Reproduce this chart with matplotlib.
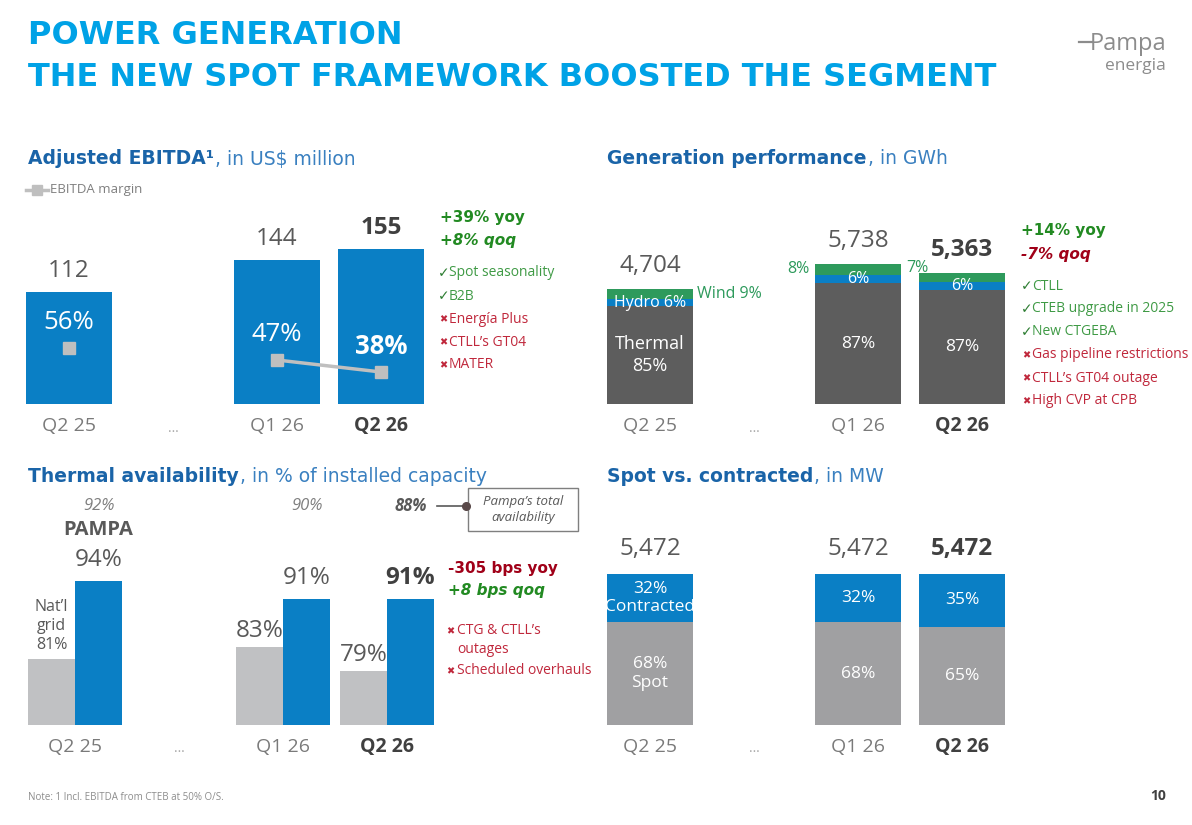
import numpy as np
import matplotlib
matplotlib.use("Agg")
import matplotlib.pyplot as plt
from matplotlib.patches import Rectangle
from matplotlib.lines import Line2D
from matplotlib.transforms import blended_transform_factory

W, H = 1192, 825

# --- data ---
quarters = ["Q2 25", "Q1 26", "Q2 26"]
qpos = [0, 2, 3]          # slot 1 is the "..." gap

ebitda = [112, 144, 155]
ebitda_margin = [56, 47, 38]
ebitda_drivers = ["Spot seasonality", "B2B", "Energía Plus", "CTLL’s GT04", "MATER"]
ebitda_ok = [True, True, False, False, False]

gen_total = [4704, 5738, 5363]
gen_thermal = [85, 87, 87]
gen_hydro = [6, 6, 6]
gen_wind = [9, 8, 7]
gen_drivers = ["CTLL", "CTEB upgrade in 2025", "New CTGEBA",
               "Gas pipeline restrictions", "CTLL’s GT04 outage", "High CVP at CPB"]
gen_ok = [True, True, True, False, False, False]

avail_grid = [81, 83, 79]
avail_thermal = [94, 91, 91]
avail_total = [92, 90, 88]
avail_drivers = ["CTG & CTLL’s\noutages", "Scheduled overhauls"]

capacity = [5472, 5472, 5472]
contracted = [32, 32, 35]
spot = [68, 68, 65]

# --- colours / fonts ---
CYAN = "#00a2e6"
DBLUE = "#1a64a8"
LBLUE = "#3a80c0"
BLUE = "#0a7fc5"
DGREY = "#5d5d5d"
TXT = "#595959"
LGREY = "#c0c1c3"
MGREY = "#a0a0a2"
GREEN = "#2e9a5c"
OKGREEN = "#3f9a45"
BGREEN = "#228a22"
RED = "#c0283c"
DRED = "#a00018"
BODY = ["Open Sans", "DejaVu Sans"]
NUM = 17.5

fig = plt.figure(figsize=(W / 100, H / 100), dpi=100)
fig.patch.set_facecolor("white")
renderer = fig.canvas.get_renderer()


def fx(x):
    return x / W


def fy(y):
    return 1 - y / H


def ftext(x, y, s, **kw):
    kw.setdefault("va", "center")
    kw.setdefault("family", BODY)
    return fig.text(fx(x), fy(y), s, **kw)


def panel(left, right, top, base, x0px, ppu, ymin=0):
    ax = fig.add_axes([fx(left), fy(base), (right - left) / W, (base - top) / H])
    ax.set_xlim((left - x0px) / 104, (right - x0px) / 104)
    ax.set_ylim(ymin, ymin + (base - top) / ppu)
    ax.axis("off")
    return ax


def lab(ax, x, y, s, dx=0, dy=0, **kw):
    kw.setdefault("ha", "center")
    kw.setdefault("va", "center")
    kw.setdefault("family", BODY)
    ax.annotate(s, (x, y), xytext=(dx, dy), textcoords="offset pixels", **kw)


def cats(ax, ymin, dy=-22):
    for p, q in zip(qpos, quarters):
        bold = q == quarters[-1]
        lab(ax, p, ymin, q, dy=dy, fontsize=14, color="#404040" if bold else "#7a7a7a",
            fontweight="bold" if bold else "normal")
    lab(ax, 1, ymin, "…", dy=dy - 2, fontsize=10, color="#a6a6a6")


def title2(x, y, bold, rest):
    t = ftext(x, y, bold, fontsize=13.5, fontweight="bold", color=DBLUE, family="DejaVu Sans")
    bb = t.get_window_extent(renderer)
    ftext(bb.x1 + 1, y, rest, fontsize=13.5, color=LBLUE, family="DejaVu Sans")


def drivers(x, y0, items, oks, step=23, size=10):
    for i, (s, ok) in enumerate(zip(items, oks)):
        y = y0 + i * step
        if ok:
            ftext(x, y, "✓", fontsize=size, color="#2d7d32", family="DejaVu Sans")
            ftext(x + 11, y, s, fontsize=size, color=OKGREEN)
        else:
            ftext(x + 1, y, "✖", fontsize=size - 3, color=RED, family="DejaVu Sans")
            ftext(x + 11, y, s, fontsize=size, color=RED)


# --- header ---
ftext(28, 35, "POWER GENERATION", fontsize=23, fontweight="bold", color=CYAN, family="DejaVu Sans")
ftext(28, 78, "THE NEW SPOT FRAMEWORK BOOSTED THE SEGMENT", fontsize=23, fontweight="bold",
      color=CYAN, family="DejaVu Sans")
ftext(1166, 44, "Pampa", fontsize=17, color="#8c8c8c", ha="right")
ftext(1166, 66, "energia", fontsize=12.5, color="#8c8c8c", ha="right")
fig.add_artist(Line2D([fx(1079), fx(1092)], [fy(42), fy(42)], color="#8c8c8c", lw=1.6))

# --- Adjusted EBITDA ---
title2(28, 159, "Adjusted EBITDA¹", ", in US$ million")
fig.add_artist(Line2D([fx(26), fx(48)], [fy(190), fy(190)], color="#bfbfbf", lw=2.5))
fig.add_artist(Line2D([fx(37)], [fy(190)], color="#bfbfbf", marker="s", markersize=7, lw=0))
ftext(50, 190, "EBITDA margin", fontsize=9.5, color="#7f7f7f")

ax1 = panel(17, 435, 200, 404, 69, 1.0)
ax1.bar(qpos, ebitda, width=0.83, color=BLUE)
for p, v in zip(qpos, ebitda):
    lab(ax1, p, v, f"{v}", dy=21, fontsize=NUM, color=TXT if p != 3 else "#404040",
        fontweight="bold" if p == 3 else "normal")
cats(ax1, 0)

ax1b = ax1.twinx()
ax1b.set_ylim(14, 167)
ax1b.axis("off")
ax1b.plot(qpos[1:], ebitda_margin[1:], color="#bfbfbf", lw=2.5, marker="s", markersize=8)
ax1b.plot(qpos[:1], ebitda_margin[:1], color="#bfbfbf", lw=0, marker="s", markersize=8)
for p, m in zip(qpos, ebitda_margin):
    lab(ax1b, p, m, f"{m}%", dy=26, fontsize=18.5, color="white",
        fontweight="bold" if p == 3 else "normal")

ftext(440, 218, "+39% yoy", fontsize=11, fontweight="bold", color=BGREEN, family="DejaVu Sans")
ftext(440, 241, "+8% qoq", fontsize=11, fontweight="bold", style="italic", color=BGREEN, family="DejaVu Sans")
drivers(438, 273, ebitda_drivers, ebitda_ok)

# --- Generation performance ---
title2(607, 159, "Generation performance", ", in GWh")
ax2 = panel(595, 1015, 200, 404, 650, 0.02442)
th, hy, wi = [], [], []
for t, a, b, c in zip(gen_total, gen_thermal, gen_hydro, gen_wind):
    s = a + b + c
    th.append(t * a / s)
    hy.append(t * b / s)
    wi.append(t * c / s)
th, hy, wi = np.array(th), np.array(hy), np.array(wi)
ax2.bar(qpos, th, width=0.835, color=DGREY)
ax2.bar(qpos, hy, bottom=th, width=0.835, color=BLUE)
ax2.bar(qpos, wi, bottom=th + hy, width=0.835, color=GREEN)
for i, p in enumerate(qpos):
    bold = p == 3
    lab(ax2, p, gen_total[i], f"{gen_total[i]:,}", dy=23, fontsize=NUM,
        color="#404040" if bold else TXT, fontweight="bold" if bold else "normal")
    hyc = th[i] + hy[i] / 2
    wic = th[i] + hy[i] + wi[i] / 2
    if i == 0:
        lab(ax2, p, th[i] / 2, f"Thermal\n{gen_thermal[i]}%", fontsize=13, color="white", linespacing=1.3)
        lab(ax2, p, hyc, f"Hydro {gen_hydro[i]}%", fontsize=11.5, color="white")
        lab(ax2, p, wic, f"Wind {gen_wind[i]}%", dx=47, ha="left", fontsize=11.5, color=GREEN)
    else:
        lab(ax2, p, th[i] / 2, f"{gen_thermal[i]}%", fontsize=12.5, color="white")
        lab(ax2, p, hyc, f"{gen_hydro[i]}%", fontsize=11.5, color="white")
        lab(ax2, p, wic, f"{gen_wind[i]}%", dx=-60 if i == 1 else -45, dy=0 if i == 1 else 10,
            fontsize=11.5, color=GREEN)
cats(ax2, 0)

ftext(1021, 231, "+14% yoy", fontsize=11, fontweight="bold", color=BGREEN, family="DejaVu Sans")
ftext(1021, 254, "-7% qoq", fontsize=11, fontweight="bold", style="italic", color=DRED, family="DejaVu Sans")
drivers(1021, 286, gen_drivers, gen_ok)

# --- Thermal availability ---
title2(28, 476, "Thermal availability", ", in % of installed capacity")
ax3 = panel(17, 440, 540, 725, 75, 6.0, ymin=70)
w = 0.452
gx = [p - w / 2 for p in qpos]
bx = [p + w / 2 for p in qpos]
ax3.bar(gx, np.array(avail_grid) - 70, bottom=70, width=w, color=LGREY)
ax3.bar(bx, np.array(avail_thermal) - 70, bottom=70, width=w, color=BLUE)
for i, p in enumerate(qpos):
    bold = p == 3
    lab(ax3, bx[i], avail_thermal[i], f"{avail_thermal[i]}%", dy=21, fontsize=NUM,
        color="#404040" if bold else TXT, fontweight="bold" if bold else "normal")
    if i == 0:
        lab(ax3, gx[i], avail_grid[i], f"Nat’l\ngrid\n{avail_grid[i]}%", dy=33, fontsize=11.5,
            color=TXT, linespacing=1.25)
    else:
        lab(ax3, gx[i], avail_grid[i], f"{avail_grid[i]}%", dy=16, fontsize=NUM, color=TXT)
tr = blended_transform_factory(ax3.transData, fig.transFigure)
for i, p in enumerate(qpos):
    bold = p == 3
    ax3.text(bx[i], fy(506), f"{avail_total[i]}%", transform=tr, ha="center", va="center",
             fontsize=12, style="italic", fontweight="bold" if bold else "normal",
             color=TXT if bold else "#7f7f7f", family=BODY)
ax3.text(bx[0], fy(530), "PAMPA", transform=tr, ha="center", va="center", fontsize=14.5,
         fontweight="bold", color=TXT, family=BODY)
cats(ax3, 70)

fig.add_artist(Line2D([fx(437), fx(464)], [fy(506), fy(506)], color=TXT, lw=1.2))
fig.add_artist(Line2D([fx(466)], [fy(506)], color="#5a4a4a", marker="o", markersize=5.5, lw=0))
fig.add_artist(Rectangle((fx(468), fy(531)), 110 / W, 43 / H, fill=False, edgecolor="#7f7f7f", lw=1))
ftext(523, 509, "Pampa’s total\navailability", fontsize=9.5, style="italic", color=TXT, ha="center",
      linespacing=1.3)

ftext(448, 568, "-305 bps yoy", fontsize=11, fontweight="bold", color=DRED, family="DejaVu Sans")
ftext(448, 591, "+8 bps qoq", fontsize=11, fontweight="bold", style="italic", color=BGREEN, family="DejaVu Sans")
ftext(446, 631, "✖", fontsize=7, color=RED, family="DejaVu Sans")
ftext(457, 640, avail_drivers[0], fontsize=10, color=RED, linespacing=1.3)
ftext(446, 671, "✖", fontsize=7, color=RED, family="DejaVu Sans")
ftext(457, 671, avail_drivers[1], fontsize=10, color=RED)

# --- Spot vs contracted ---
title2(607, 476, "Spot vs. contracted", ", in MW")
ax4 = panel(595, 1015, 540, 725, 650, 151 / 5472)
cap = np.array(capacity)
sp = cap * np.array(spot) / 100
co = cap * np.array(contracted) / 100
ax4.bar(qpos, sp, width=0.835, color=MGREY)
ax4.bar(qpos, co, bottom=sp, width=0.835, color=BLUE)
for i, p in enumerate(qpos):
    bold = p == 3
    lab(ax4, p, cap[i], f"{cap[i]:,}", dy=25, fontsize=NUM,
        color="#404040" if bold else TXT, fontweight="bold" if bold else "normal")
    if i == 0:
        lab(ax4, p, sp[i] + co[i] / 2, f"{contracted[i]}%\nContracted", fontsize=12.5, color="white",
            linespacing=1.2)
        lab(ax4, p, sp[i] / 2, f"{spot[i]}%\nSpot", fontsize=12.5, color="white", linespacing=1.3)
    else:
        lab(ax4, p, sp[i] + co[i] / 2, f"{contracted[i]}%", fontsize=12.5, color="white")
        lab(ax4, p, sp[i] / 2, f"{spot[i]}%", fontsize=12.5, color="white")
cats(ax4, 0)

# --- footer ---
ftext(28, 798, "Note: 1 Incl. EBITDA from CTEB at 50% O/S.", fontsize=7, color="#8c8c8c")
ftext(1158, 796, "10", fontsize=10, color="#404040", ha="center", fontweight="bold")

fig.savefig("out.png", dpi=100, facecolor="white")
